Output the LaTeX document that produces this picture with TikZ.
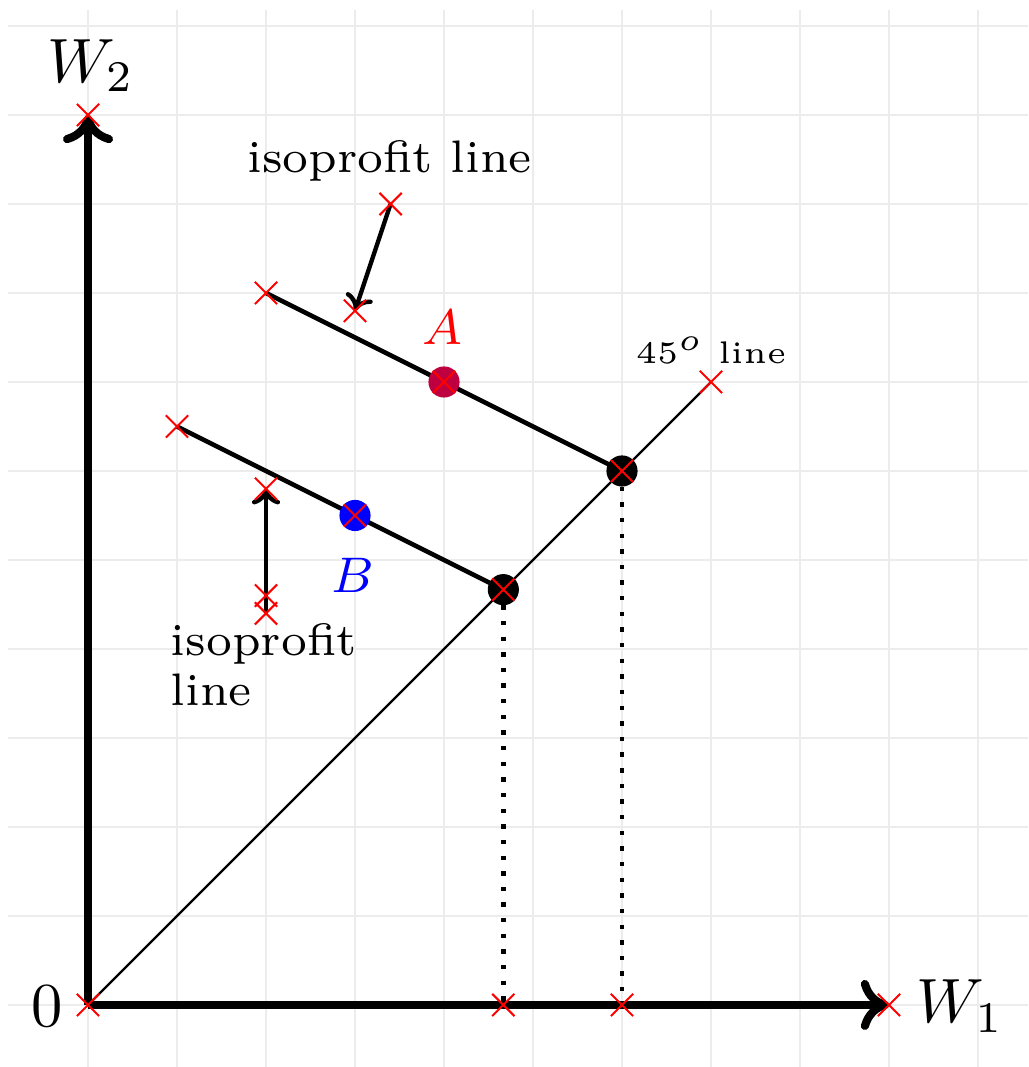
\documentclass[tikz,border=0pt]{standalone}
\usetikzlibrary{shapes.misc,arrows.meta}
\definecolor{gridc}{RGB}{236,236,236}
\begin{document}
\begin{tikzpicture}[
  ptx/.style={cross out, draw=red, line width=0.65pt, minimum size=0.25cm, inner sep=0pt, outer sep=0pt},
  dotn/.style={circle, inner sep=0pt, outer sep=0pt, minimum size=#1},
  axisline/.style={line width=2.6pt, -{Computer Modern Rightarrow[length=9pt,width=16pt]}},
  isoline/.style={line width=1.45pt},
  diagline/.style={line width=0.7pt},
  annarrow/.style={line width=1.4pt, -{Computer Modern Rightarrow[length=5pt,width=9pt]}},
  droplines/.style={line width=1.4pt, dash pattern=on 1.4pt off 3.6pt},
  lbl/.style={inner sep=0pt, outer sep=0pt}
]
\useasboundingbox (-0.989,-0.697) rectangle (10.562,11.292);
\draw[gridc, line width=0.5pt] (-0.9,-0.697) grid (10.562,11.18);

% points
\coordinate (O) at (0,0);
\coordinate (X) at (9,0);
\coordinate (Y) at (0,10);
\coordinate (D) at (7,7);
\coordinate (P1) at (2,8);
\coordinate (E1) at (6,6);
\coordinate (A) at (4,7);
\coordinate (P2) at (1,6.5);
\coordinate (E2) at (14/3,14/3);
\coordinate (B) at (3,5.5);
\coordinate (F1) at (6,0);
\coordinate (F2) at (14/3,0);
\coordinate (S1) at (3.4,9);
\coordinate (T1) at (3,7.8);
\coordinate (S2) at (2,4.4);
\coordinate (S3) at (2,4.6);
\coordinate (T2) at (2,5.8);

% lines
\draw[diagline] (O) -- (D);
\draw[droplines] (E1) -- (F1);
\draw[droplines] (E2) -- (F2);
\draw[axisline] (O) -- (X);
\draw[axisline] (O) -- (Y);
\draw[isoline] (P1) -- (E1);
\draw[isoline] (P2) -- (E2);
\draw[annarrow] (S1) -- (T1);
\draw[annarrow] (S2) -- (T2);

% dots
\node[dotn=0.35cm, fill=purple] (dA) at (A) {};
\node[dotn=0.35cm, fill=blue] (dB) at (B) {};
\node[dotn=0.35cm, fill=black] (dE1) at (E1) {};
\node[dotn=0.35cm, fill=black] (dE2) at (E2) {};

% crosses
\foreach \p in {O,X,Y,D,P1,E1,A,P2,E2,B,F1,F2,S1,T1,S2,S3,T2}
  \node[ptx] (c\p) at (\p) {};

% labels
\node[lbl, anchor=base west] (lW2) at (-0.46,10.37) {\scalebox{2}{$W_2$}};
\node[lbl, anchor=base west] (lW1) at (9.31,-0.20) {\scalebox{2}{$W_1$}};
\node[lbl] (l0) at (-0.46,-0.01) {\scalebox{2}{$0$}};
\node[lbl, anchor=base] (lA) at (3.98,7.42) {\scalebox{2}{\footnotesize\color{red}$A$}};
\node[lbl, anchor=base] (lB) at (2.98,4.63) {\scalebox{2}{\footnotesize\color{blue}$B$}};
\node[lbl, anchor=base] (liso1) at (3.39,9.35) {\scalebox{2.08}{\scriptsize isoprofit line}};
\node[lbl, anchor=base west] (liso2) at (0.93,3.93) {\scalebox{2.08}{\scriptsize\begin{tabular}[t]{@{}l@{}}isoprofit\\[-0.3pt]line\end{tabular}}};
\node[lbl, anchor=base] (l45) at (7.0,7.21) {\scalebox{2}{\tiny $45^o$ line}};
\end{tikzpicture}
\end{document}
